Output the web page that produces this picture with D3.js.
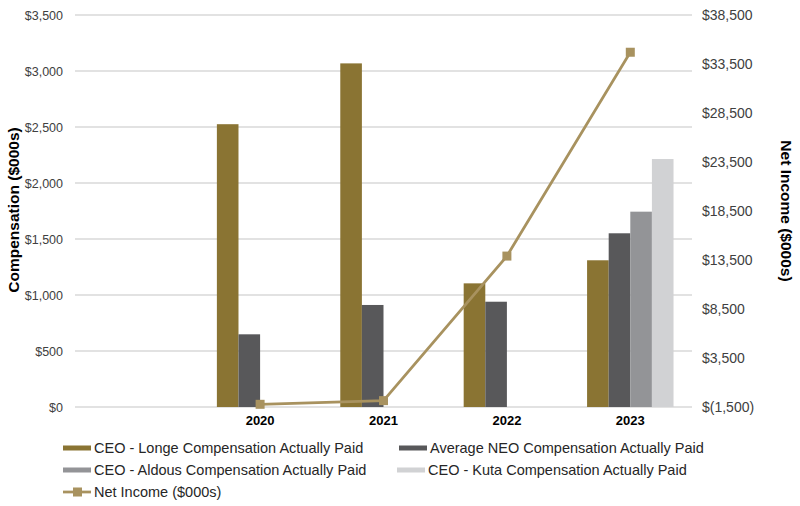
<!DOCTYPE html>
<html>
<head>
<meta charset="utf-8">
<script src="https://cdn.jsdelivr.net/npm/d3@7/dist/d3.min.js"></script>
<style>
  body { margin: 0; background: #fff; }
  svg { display: block; font-family: "Liberation Sans", Arial, sans-serif; }
</style>
</head>
<body>
<svg id="chart" width="800" height="506"></svg>
<script>
// ---- data ----
const categories = ["", "2020", "2021", "2022", "2023"];
const seriesNames = [
  "CEO - Longe Compensation Actually Paid",
  "Average NEO Compensation Actually Paid",
  "CEO - Aldous Compensation Actually Paid",
  "CEO - Kuta Compensation Actually Paid"
];
const longe  = [null, 2525, 3068, 1104, 1310];
const neo    = [null, 649, 911, 940, 1551];
const aldous = [null, null, null, null, 1744];
const kuta   = [null, null, null, null, 2214];
const netIncome = [null, -1225, -850, 13900, 34700];
const lineName = "Net Income ($000s)";
const leftTicks  = [0, 500, 1000, 1500, 2000, 2500, 3000, 3500];
const rightTicks = [-1500, 3500, 8500, 13500, 18500, 23500, 28500, 33500, 38500];
const colors = ["#8A7433", "#58585A", "#939497", "#D1D2D4"];
const lineColor = "#A8925F";

const seriesValues = [longe, neo, aldous, kuta];

// ---- layout ----
const svg = d3.select("#chart");
const pLeft = 75, pRight = 692, pTop = 15, pBottom = 407;

const x = d3.scaleBand().domain(categories).range([pLeft, pRight]).paddingInner(0).paddingOuter(0);
const xs = d3.scaleBand().domain(seriesNames).range([0, x.bandwidth()]).paddingInner(0).paddingOuter(0.855);
const yL = d3.scaleLinear().domain([0, 3500]).range([pBottom, pTop]);
const yR = d3.scaleLinear().domain([-1500, 38500]).range([pBottom, pTop]);

const fmtL = d => "$" + d3.format(",")(d);
const fmtR = d => d < 0 ? "$(" + d3.format(",")(-d) + ")" : "$" + d3.format(",")(d);

// gridlines
svg.append("g").selectAll("line").data(leftTicks).join("line")
  .attr("x1", pLeft).attr("x2", pRight)
  .attr("y1", d => yL(d)).attr("y2", d => yL(d))
  .attr("stroke", "#D9D9D9").attr("stroke-width", 1.3);

// left axis
const gL = svg.append("g").attr("transform", `translate(${pLeft},0)`)
  .call(d3.axisLeft(yL).tickValues(leftTicks).tickFormat(fmtL).tickSize(0).tickPadding(12));
gL.select(".domain").remove();
gL.selectAll("text").attr("font-size", "12.5px").attr("fill", "#404040")
  .attr("font-family", "Liberation Sans, Arial, sans-serif");

// right axis
const gR = svg.append("g").attr("transform", `translate(${pRight},0)`)
  .call(d3.axisRight(yR).tickValues(rightTicks).tickFormat(fmtR).tickSize(0).tickPadding(10));
gR.select(".domain").remove();
gR.selectAll("text").attr("font-size", "14px").attr("fill", "#404040")
  .attr("font-family", "Liberation Sans, Arial, sans-serif");

// bars
const barData = [];
seriesValues.forEach((vals, si) => {
  vals.forEach((v, ci) => {
    if (v !== null) barData.push({ cat: categories[ci], s: seriesNames[si], v, si });
  });
});
svg.append("g").selectAll("rect").data(barData).join("rect")
  .attr("x", d => x(d.cat) + xs(d.s))
  .attr("width", xs.bandwidth())
  .attr("y", d => yL(d.v))
  .attr("height", d => yL(0) - yL(d.v))
  .attr("fill", d => colors[d.si]);

// x axis labels
const gX = svg.append("g").attr("transform", `translate(0,${pBottom})`)
  .call(d3.axisBottom(x).tickSize(0).tickPadding(9));
gX.select(".domain").remove();
gX.selectAll("text").attr("font-size", "13px").attr("font-weight", "bold").attr("fill", "#000")
  .attr("font-family", "Liberation Sans, Arial, sans-serif");

// net income line
const linePts = categories.map((c, i) => ({ c, v: netIncome[i] })).filter(d => d.v !== null);
svg.append("path").datum(linePts)
  .attr("fill", "none").attr("stroke", lineColor).attr("stroke-width", 2.75)
  .attr("d", d3.line().x(d => x(d.c) + x.bandwidth() / 2).y(d => yR(d.v)));
svg.append("g").selectAll("rect").data(linePts).join("rect")
  .attr("x", d => x(d.c) + x.bandwidth() / 2 - 4.5)
  .attr("y", d => yR(d.v) - 4.5)
  .attr("width", 9).attr("height", 9)
  .attr("fill", lineColor);

// axis titles
svg.append("text")
  .attr("transform", `translate(19,210) rotate(-90)`)
  .attr("text-anchor", "middle")
  .attr("font-size", "15.5px").attr("font-weight", "bold").attr("fill", "#000")
  .text("Compensation ($000s)");
svg.append("text")
  .attr("transform", `translate(781,211) rotate(90)`)
  .attr("text-anchor", "middle")
  .attr("font-size", "15.5px").attr("font-weight", "bold").attr("fill", "#000")
  .text("Net Income ($000s)");

// legend
const legendItems = [
  { name: seriesNames[0], color: colors[0], x: 63, y: 448, type: "bar" },
  { name: seriesNames[1], color: colors[1], x: 399, y: 448, type: "bar" },
  { name: seriesNames[2], color: colors[2], x: 63, y: 470, type: "bar" },
  { name: seriesNames[3], color: colors[3], x: 397, y: 470, type: "bar" },
  { name: lineName, color: lineColor, x: 63, y: 492, type: "line" }
];
const lg = svg.append("g").selectAll("g").data(legendItems).join("g")
  .attr("transform", d => `translate(${d.x},${d.y})`);
lg.filter(d => d.type === "bar").append("rect")
  .attr("x", 0).attr("y", -2.5).attr("width", 28).attr("height", 5)
  .attr("fill", d => d.color);
lg.filter(d => d.type === "line").append("line")
  .attr("x1", 0).attr("x2", 28).attr("y1", 0).attr("y2", 0)
  .attr("stroke", d => d.color).attr("stroke-width", 2.75);
lg.filter(d => d.type === "line").append("rect")
  .attr("x", 10).attr("y", -4.5).attr("width", 9).attr("height", 9)
  .attr("fill", d => d.color);
lg.append("text")
  .attr("x", 31).attr("y", 0).attr("dy", "0.35em")
  .attr("font-size", "14.5px").attr("fill", "#262626")
  .text(d => d.name);
</script>
</body>
</html>
